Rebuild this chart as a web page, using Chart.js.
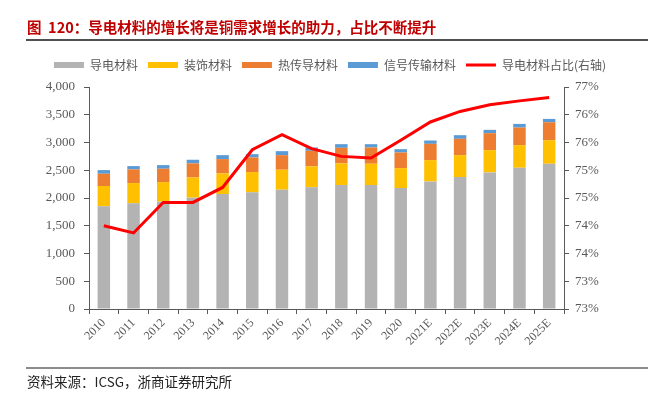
<!DOCTYPE html>
<html>
<head>
<meta charset="utf-8">
<script src="https://cdn.jsdelivr.net/npm/chart.js@4"></script>
<style>
  body { margin: 0; background: #fff; }
  #wrap { position: relative; width: 660px; height: 398px; overflow: hidden; }
  #chartBox { position: absolute; left: 0; top: 0; width: 660px; height: 398px; }
  .title {
    position: absolute; left: 27px; top: 16px;
    font: bold 14.5px "Noto Sans CJK SC", sans-serif; color: #C00000;
    white-space: pre;
  }
  .rule { position: absolute; left: 26px; width: 622px; }
  .source {
    position: absolute; left: 27px; top: 371px;
    font: 13.5px "Noto Sans CJK SC", serif; color: #222;
    white-space: nowrap;
  }
</style>
</head>
<body>
<div id="wrap">
  <div id="chartBox"><canvas id="myChart"></canvas></div>
  <div class="title">图  120：导电材料的增长将是铜需求增长的助力，占比不断提升</div>
  <div class="rule" style="top:39px;height:2px;background:#505050;"></div>
  <div class="rule" style="top:367px;height:2px;background:#8c8c8c;"></div>
  <div class="source">资料来源：ICSG，浙商证券研究所</div>
</div>
<script>
const years = ["2010", "2011", "2012", "2013", "2014", "2015", "2016", "2017",
  "2018", "2019", "2020", "2021E", "2022E", "2023E", "2024E", "2025E"];

// 千吨（左轴）
const conductive = [1850, 1904, 1934, 2006, 2072, 2102, 2150, 2192,
  2234, 2234, 2180, 2299, 2377, 2461, 2545, 2617];
const decorative = [366, 365, 353, 365, 371, 365, 359, 377,
  389, 383, 359, 384, 395, 401, 407, 425];
const heatTransfer = [221, 246, 240, 252, 258, 264, 263, 281,
  281, 293, 281, 293, 294, 306, 317, 323];
const signal = [66, 60, 66, 66, 71, 59, 72, 60,
  66, 60, 60, 60, 66, 60, 66, 60];

// 导电材料占比（右轴, %）
const conductiveShare = [74.50, 74.37, 74.92, 74.92, 75.19, 75.87, 76.14, 75.89,
  75.75, 75.72, 76.04, 76.37, 76.56, 76.68, 76.75, 76.81];

const serif = "'Liberation Serif', 'Times New Roman', serif";
const axisColor = "#595959";

// legend box gets a fixed height so the plot starts where the original does
const legendHeight = {
  id: "legendHeight",
  beforeInit(chart) {
    const legend = chart.legend;
    const fit = legend.fit;
    legend.fit = function () {
      fit.call(this);
      this.height = 38;
    };
  },
};

const ctx = document.getElementById("myChart");

new Chart(ctx, {
  type: "bar",
  data: {
    labels: years,
    datasets: [
      { label: "导电材料", data: conductive, backgroundColor: "#B3B3B3", yAxisID: "y", order: 1 },
      { label: "装饰材料", data: decorative, backgroundColor: "#FFC000", yAxisID: "y", order: 1 },
      { label: "热传导材料", data: heatTransfer, backgroundColor: "#ED7D31", yAxisID: "y", order: 1 },
      { label: "信号传输材料", data: signal, backgroundColor: "#5B9BD5", yAxisID: "y", order: 1 },
      {
        type: "line",
        label: "导电材料占比(右轴)",
        data: conductiveShare,
        borderColor: "#FF0000",
        backgroundColor: "#FF0000",
        borderWidth: 3,
        pointRadius: 0,
        tension: 0,
        yAxisID: "y1",
        order: 0,
      },
    ],
  },
  plugins: [legendHeight],
  options: {
    responsive: true,
    maintainAspectRatio: false,
    animation: false,
    datasets: {
      bar: { categoryPercentage: 1, barPercentage: 0.42 },
    },
    layout: { padding: { top: 49, left: 0, right: 0, bottom: 0 } },
    plugins: {
      tooltip: { enabled: false },
      legend: {
        position: "top",
        align: "center",
        labels: {
          usePointStyle: true,
          pointStyleWidth: 30,
          boxWidth: 30,
          boxHeight: 6,
          padding: 10,
          color: axisColor,
          font: { family: "'Noto Sans CJK SC', sans-serif", size: 12 },
          sort: (a, b) => a.datasetIndex - b.datasetIndex,
          generateLabels(chart) {
            const items = Chart.defaults.plugins.legend.labels.generateLabels(chart);
            items.forEach((it) => {
              const ds = chart.data.datasets[it.datasetIndex];
              if (ds.type === "line") {
                it.pointStyle = "line";
                it.strokeStyle = "#FF0000";
                it.lineWidth = 3;
              } else {
                it.pointStyle = "rect";
                it.lineWidth = 0;
              }
            });
            return items;
          },
        },
      },
    },
    scales: {
      x: {
        stacked: true,
        border: { color: axisColor, width: 1 },
        grid: { display: true, drawOnChartArea: false, drawTicks: true, tickLength: 5, color: axisColor, offset: true },
        ticks: {
          color: axisColor,
          font: { family: serif, size: 12 },
          minRotation: 45,
          maxRotation: 45,
          padding: 2,
          autoSkip: false,
        },
        afterFit(scale) { scale.height = 89; },
      },
      y: {
        stacked: true,
        position: "left",
        min: 0,
        max: 4000,
        border: { color: axisColor, width: 1 },
        grid: { display: true, drawOnChartArea: false, drawTicks: true, tickLength: 5, color: axisColor },
        ticks: {
          stepSize: 500,
          color: axisColor,
          padding: 9,
          font: { family: serif, size: 13 },
          callback: (v) => Number(v).toLocaleString("en-US"),
        },
        afterFit(scale) { scale.width = 89; },
      },
      y1: {
        position: "right",
        min: 73,
        max: 77,
        border: { color: axisColor, width: 1 },
        grid: { display: true, drawOnChartArea: false, drawTicks: true, tickLength: 5, color: axisColor },
        ticks: {
          stepSize: 0.5,
          color: axisColor,
          padding: 6,
          font: { family: serif, size: 13 },
          callback: (v) => Math.floor(v) + "%",
        },
        afterFit(scale) { scale.width = 96; },
      },
    },
  },
});
</script>
</body>
</html>
